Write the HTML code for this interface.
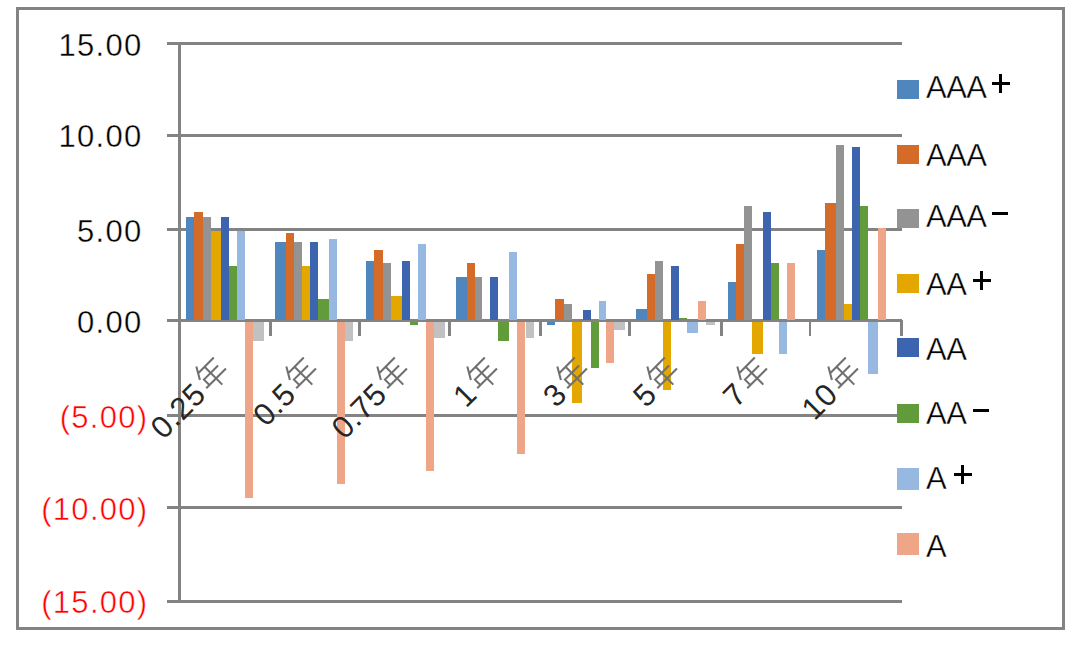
<!DOCTYPE html>
<html><head><meta charset="utf-8"><style>
html,body{margin:0;padding:0;background:#fff;}
body{width:1080px;height:649px;overflow:hidden;position:relative;font-family:"Liberation Sans",sans-serif;}
div{position:absolute;}
.g{background:#838383;}
.yl{font-size:31px;line-height:30px;white-space:nowrap;text-align:right;-webkit-text-stroke:0.35px #fff;}
.lg{font-size:31px;line-height:30px;white-space:nowrap;color:#000;-webkit-text-stroke:0.35px #fff;}
.cl{font-size:31px;line-height:30px;white-space:nowrap;color:#262626;}
</style></head><body>

<div style="left:16px;top:7px;width:1043px;height:617px;border:3px solid #838383;"></div>
<div class="g" style="left:167.2px;top:42.35px;width:735.1px;height:2.7px"></div>
<div class="g" style="left:167.2px;top:134.05px;width:735.1px;height:2.7px"></div>
<div class="g" style="left:167.2px;top:228.15px;width:735.1px;height:2.7px"></div>
<div class="g" style="left:167.2px;top:319.45px;width:735.1px;height:2.7px"></div>
<div class="g" style="left:167.2px;top:414.35px;width:735.1px;height:2.7px"></div>
<div class="g" style="left:167.2px;top:506.05px;width:735.1px;height:2.7px"></div>
<div class="g" style="left:167.2px;top:600.05px;width:735.1px;height:2.7px"></div>
<div class="g" style="left:178.1px;top:42.35px;width:2.8px;height:560.4px"></div>
<div style="left:186.25px;top:217.1px;width:8.05px;height:103.7px;background:#4E86BD"></div>
<div style="left:194.3px;top:212.1px;width:8.4px;height:108.7px;background:#D46B29"></div>
<div style="left:202.7px;top:217.1px;width:8.1px;height:103.7px;background:#939393"></div>
<div style="left:210.8px;top:230.8px;width:10px;height:90px;background:#E3A700"></div>
<div style="left:220.8px;top:217.1px;width:8.1px;height:103.7px;background:#3D64AF"></div>
<div style="left:228.9px;top:266px;width:8.2px;height:54.8px;background:#619B3C"></div>
<div style="left:237.1px;top:230.8px;width:7.9px;height:90px;background:#97B8E0"></div>
<div style="left:245px;top:320.8px;width:8.1px;height:177.05px;background:#EFA688"></div>
<div style="left:253.1px;top:320.8px;width:10.8px;height:20px;background:#C1C1C1"></div>
<div style="left:275px;top:241.6px;width:11px;height:79.2px;background:#4E86BD"></div>
<div style="left:286px;top:233.4px;width:8px;height:87.4px;background:#D46B29"></div>
<div style="left:294px;top:241.6px;width:8px;height:79.2px;background:#939393"></div>
<div style="left:302px;top:266px;width:8.1px;height:54.8px;background:#E3A700"></div>
<div style="left:310.1px;top:241.6px;width:8px;height:79.2px;background:#3D64AF"></div>
<div style="left:318.1px;top:298.7px;width:11.1px;height:22.1px;background:#619B3C"></div>
<div style="left:329.2px;top:238.9px;width:8px;height:81.9px;background:#97B8E0"></div>
<div style="left:337.2px;top:320.8px;width:7.6px;height:163.1px;background:#EFA688"></div>
<div style="left:344.8px;top:320.8px;width:8px;height:20px;background:#C1C1C1"></div>
<div style="left:366.2px;top:260.8px;width:8.1px;height:60px;background:#4E86BD"></div>
<div style="left:374.3px;top:249.9px;width:8.3px;height:70.9px;background:#D46B29"></div>
<div style="left:382.6px;top:263.3px;width:8.2px;height:57.5px;background:#939393"></div>
<div style="left:390.8px;top:295.9px;width:10.8px;height:24.9px;background:#E3A700"></div>
<div style="left:401.6px;top:260.8px;width:8.3px;height:60px;background:#3D64AF"></div>
<div style="left:409.9px;top:320.8px;width:8px;height:4px;background:#619B3C"></div>
<div style="left:417.9px;top:244.2px;width:8px;height:76.6px;background:#97B8E0"></div>
<div style="left:425.9px;top:320.8px;width:8.2px;height:149.9px;background:#EFA688"></div>
<div style="left:434.1px;top:320.8px;width:10.8px;height:17.5px;background:#C1C1C1"></div>
<div style="left:456px;top:277px;width:10.9px;height:43.8px;background:#4E86BD"></div>
<div style="left:466.9px;top:263.1px;width:8.1px;height:57.7px;background:#D46B29"></div>
<div style="left:475px;top:277px;width:7.1px;height:43.8px;background:#939393"></div>
<div style="left:490.2px;top:277px;width:8.1px;height:43.8px;background:#3D64AF"></div>
<div style="left:498.3px;top:320.8px;width:10.6px;height:19.9px;background:#619B3C"></div>
<div style="left:508.9px;top:252.3px;width:8.3px;height:68.5px;background:#97B8E0"></div>
<div style="left:517.2px;top:320.8px;width:8.3px;height:133.2px;background:#EFA688"></div>
<div style="left:525.5px;top:320.8px;width:8px;height:17.2px;background:#C1C1C1"></div>
<div style="left:547.2px;top:320.8px;width:8.2px;height:4px;background:#4E86BD"></div>
<div style="left:555.4px;top:298.9px;width:8.2px;height:21.9px;background:#D46B29"></div>
<div style="left:563.6px;top:304.2px;width:8.3px;height:16.6px;background:#939393"></div>
<div style="left:571.9px;top:320.8px;width:10.6px;height:82.7px;background:#E3A700"></div>
<div style="left:582.5px;top:309.6px;width:8.1px;height:11.2px;background:#3D64AF"></div>
<div style="left:590.6px;top:320.8px;width:8.4px;height:47.3px;background:#619B3C"></div>
<div style="left:599px;top:301.4px;width:7.1px;height:19.4px;background:#97B8E0"></div>
<div style="left:606.1px;top:320.8px;width:8.1px;height:42px;background:#EFA688"></div>
<div style="left:614.2px;top:320.8px;width:10.6px;height:9.1px;background:#C1C1C1"></div>
<div style="left:635.8px;top:309.4px;width:11.1px;height:11.4px;background:#4E86BD"></div>
<div style="left:646.9px;top:274.2px;width:8.1px;height:46.6px;background:#D46B29"></div>
<div style="left:655px;top:260.9px;width:8px;height:59.9px;background:#939393"></div>
<div style="left:663px;top:320.8px;width:8.2px;height:69px;background:#E3A700"></div>
<div style="left:671.2px;top:266.2px;width:8px;height:54.6px;background:#3D64AF"></div>
<div style="left:679.2px;top:317.8px;width:8.1px;height:3px;background:#619B3C"></div>
<div style="left:687.3px;top:320.8px;width:10.9px;height:11.9px;background:#97B8E0"></div>
<div style="left:698.2px;top:301.3px;width:8.1px;height:19.5px;background:#EFA688"></div>
<div style="left:706.3px;top:320.8px;width:8.3px;height:3.8px;background:#C1C1C1"></div>
<div style="left:728.3px;top:282.3px;width:8px;height:38.5px;background:#4E86BD"></div>
<div style="left:736.3px;top:244.2px;width:7.4px;height:76.6px;background:#D46B29"></div>
<div style="left:743.7px;top:206.2px;width:8.1px;height:114.6px;background:#939393"></div>
<div style="left:751.8px;top:320.8px;width:10.8px;height:33.6px;background:#E3A700"></div>
<div style="left:762.6px;top:211.9px;width:8.1px;height:108.9px;background:#3D64AF"></div>
<div style="left:770.7px;top:263.3px;width:8.1px;height:57.5px;background:#619B3C"></div>
<div style="left:778.8px;top:320.8px;width:8.1px;height:33.6px;background:#97B8E0"></div>
<div style="left:786.9px;top:263.3px;width:8px;height:57.5px;background:#EFA688"></div>
<div style="left:816.9px;top:249.6px;width:8.2px;height:71.2px;background:#4E86BD"></div>
<div style="left:825.1px;top:203.4px;width:10.8px;height:117.4px;background:#D46B29"></div>
<div style="left:835.9px;top:144.9px;width:8.1px;height:175.9px;background:#939393"></div>
<div style="left:844px;top:304px;width:8.1px;height:16.8px;background:#E3A700"></div>
<div style="left:852.1px;top:147.3px;width:7.9px;height:173.5px;background:#3D64AF"></div>
<div style="left:860px;top:206.1px;width:8.2px;height:114.7px;background:#619B3C"></div>
<div style="left:868.2px;top:320.8px;width:9.8px;height:52.8px;background:#97B8E0"></div>
<div style="left:878px;top:228.1px;width:8.1px;height:92.7px;background:#EFA688"></div>
<div class="g" style="left:178.1px;top:319.5px;width:724.2px;height:2.7px"></div>
<div class="g" style="left:269.45px;top:320px;width:2.7px;height:15.6px"></div>
<div class="g" style="left:358.25px;top:320px;width:2.7px;height:15.6px"></div>
<div class="g" style="left:447.85px;top:320px;width:2.7px;height:15.6px"></div>
<div class="g" style="left:539.25px;top:320px;width:2.7px;height:15.6px"></div>
<div class="g" style="left:628.25px;top:320px;width:2.7px;height:15.6px"></div>
<div class="g" style="left:720.05px;top:320px;width:2.7px;height:15.6px"></div>
<div class="g" style="left:808.65px;top:320px;width:2.7px;height:15.6px"></div>
<div class="g" style="left:899.95px;top:320px;width:2.7px;height:15.6px"></div>
<div class="yl" style="right:937.5px;top:31px;color:#000;letter-spacing:1.3px">15.00</div>
<div class="yl" style="right:937.5px;top:122.2px;color:#000;letter-spacing:1.3px">10.00</div>
<div class="yl" style="right:937.5px;top:216.7px;color:#000;letter-spacing:1.3px">5.00</div>
<div class="yl" style="right:937.5px;top:308px;color:#000;letter-spacing:1.3px">0.00</div>
<div class="yl" style="right:931.5px;top:402.7px;color:#FF0000;-webkit-text-stroke:0.5px #fff;letter-spacing:1.3px">(5.00)</div>
<div class="yl" style="right:931.5px;top:495px;color:#FF0000;-webkit-text-stroke:0.5px #fff;letter-spacing:1.3px">(10.00)</div>
<div class="yl" style="right:931.5px;top:588.3px;color:#FF0000;-webkit-text-stroke:0.5px #fff;letter-spacing:1.3px">(15.00)</div>
<div style="left:210.11px;top:350.4px;width:0;height:0;transform:rotate(-45deg);transform-origin:0 0"><svg width="31" height="31" viewBox="0 0 18 18" style="position:absolute;left:-33.1px;top:2.1px;overflow:visible" fill="none" stroke="#707070" stroke-width="1.2" stroke-linecap="square"><path d="M6.5 0.5L3 6.5M5 3.5H17M4.5 8.5H15.5M4.5 8.5V13M2.5 13H17.5M10 3.5V17.5"/></svg><div class="cl" style="right:34.5px;top:6.3px;letter-spacing:0.5px">0.25</div></div>
<div style="left:300.33px;top:350.4px;width:0;height:0;transform:rotate(-45deg);transform-origin:0 0"><svg width="31" height="31" viewBox="0 0 18 18" style="position:absolute;left:-33.1px;top:2.1px;overflow:visible" fill="none" stroke="#707070" stroke-width="1.2" stroke-linecap="square"><path d="M6.5 0.5L3 6.5M5 3.5H17M4.5 8.5H15.5M4.5 8.5V13M2.5 13H17.5M10 3.5V17.5"/></svg><div class="cl" style="right:34.5px;top:6.3px;letter-spacing:0.5px">0.5</div></div>
<div style="left:390.55px;top:350.4px;width:0;height:0;transform:rotate(-45deg);transform-origin:0 0"><svg width="31" height="31" viewBox="0 0 18 18" style="position:absolute;left:-33.1px;top:2.1px;overflow:visible" fill="none" stroke="#707070" stroke-width="1.2" stroke-linecap="square"><path d="M6.5 0.5L3 6.5M5 3.5H17M4.5 8.5H15.5M4.5 8.5V13M2.5 13H17.5M10 3.5V17.5"/></svg><div class="cl" style="right:34.5px;top:6.3px;letter-spacing:0.5px">0.75</div></div>
<div style="left:480.77px;top:350.4px;width:0;height:0;transform:rotate(-45deg);transform-origin:0 0"><svg width="31" height="31" viewBox="0 0 18 18" style="position:absolute;left:-33.1px;top:2.1px;overflow:visible" fill="none" stroke="#707070" stroke-width="1.2" stroke-linecap="square"><path d="M6.5 0.5L3 6.5M5 3.5H17M4.5 8.5H15.5M4.5 8.5V13M2.5 13H17.5M10 3.5V17.5"/></svg><div class="cl" style="right:34.5px;top:6.3px;letter-spacing:0.5px">1</div></div>
<div style="left:570.99px;top:350.4px;width:0;height:0;transform:rotate(-45deg);transform-origin:0 0"><svg width="31" height="31" viewBox="0 0 18 18" style="position:absolute;left:-33.1px;top:2.1px;overflow:visible" fill="none" stroke="#707070" stroke-width="1.2" stroke-linecap="square"><path d="M6.5 0.5L3 6.5M5 3.5H17M4.5 8.5H15.5M4.5 8.5V13M2.5 13H17.5M10 3.5V17.5"/></svg><div class="cl" style="right:34.5px;top:6.3px;letter-spacing:0.5px">3</div></div>
<div style="left:661.21px;top:350.4px;width:0;height:0;transform:rotate(-45deg);transform-origin:0 0"><svg width="31" height="31" viewBox="0 0 18 18" style="position:absolute;left:-33.1px;top:2.1px;overflow:visible" fill="none" stroke="#707070" stroke-width="1.2" stroke-linecap="square"><path d="M6.5 0.5L3 6.5M5 3.5H17M4.5 8.5H15.5M4.5 8.5V13M2.5 13H17.5M10 3.5V17.5"/></svg><div class="cl" style="right:34.5px;top:6.3px;letter-spacing:0.5px">5</div></div>
<div style="left:751.43px;top:350.4px;width:0;height:0;transform:rotate(-45deg);transform-origin:0 0"><svg width="31" height="31" viewBox="0 0 18 18" style="position:absolute;left:-33.1px;top:2.1px;overflow:visible" fill="none" stroke="#707070" stroke-width="1.2" stroke-linecap="square"><path d="M6.5 0.5L3 6.5M5 3.5H17M4.5 8.5H15.5M4.5 8.5V13M2.5 13H17.5M10 3.5V17.5"/></svg><div class="cl" style="right:34.5px;top:6.3px;letter-spacing:0.5px">7</div></div>
<div style="left:841.65px;top:350.4px;width:0;height:0;transform:rotate(-45deg);transform-origin:0 0"><svg width="31" height="31" viewBox="0 0 18 18" style="position:absolute;left:-33.1px;top:2.1px;overflow:visible" fill="none" stroke="#707070" stroke-width="1.2" stroke-linecap="square"><path d="M6.5 0.5L3 6.5M5 3.5H17M4.5 8.5H15.5M4.5 8.5V13M2.5 13H17.5M10 3.5V17.5"/></svg><div class="cl" style="right:34.5px;top:6.3px;letter-spacing:0.5px">10</div></div>
<div style="left:897.1px;top:79.55px;width:21.9px;height:19.1px;background:#4E86BD"></div>
<div class="lg" style="left:926px;top:73.1px;letter-spacing:-0.5px">AAA</div>
<div style="left:991.6px;top:82.45px;width:18.3px;height:2.7px;background:#000"></div>
<div style="left:999.4px;top:74.2px;width:2.7px;height:19.2px;background:#000"></div>
<div style="left:897.1px;top:144.9px;width:21.9px;height:19px;background:#D46B29"></div>
<div class="lg" style="left:926px;top:140.9px;letter-spacing:-0.5px">AAA</div>
<div style="left:897.1px;top:209px;width:21.9px;height:18.8px;background:#939393"></div>
<div class="lg" style="left:926px;top:202.3px;letter-spacing:-0.5px">AAA</div>
<div style="left:992px;top:211.5px;width:15.8px;height:3px;background:#000"></div>
<div style="left:897.1px;top:274px;width:21.9px;height:18.8px;background:#E3A700"></div>
<div class="lg" style="left:926px;top:270.1px;letter-spacing:-0.5px">AA</div>
<div style="left:972.6px;top:279.45px;width:18.3px;height:2.7px;background:#000"></div>
<div style="left:980.4px;top:271.2px;width:2.7px;height:19.2px;background:#000"></div>
<div style="left:897.1px;top:338.4px;width:21.9px;height:19px;background:#3D64AF"></div>
<div class="lg" style="left:926px;top:334.6px;letter-spacing:-0.5px">AA</div>
<div style="left:897.1px;top:403.7px;width:21.9px;height:19px;background:#619B3C"></div>
<div class="lg" style="left:926px;top:399.4px;letter-spacing:-0.5px">AA</div>
<div style="left:973px;top:408.6px;width:15.8px;height:3px;background:#000"></div>
<div style="left:897.1px;top:468px;width:21.9px;height:21.7px;background:#97B8E0"></div>
<div class="lg" style="left:926px;top:463.8px;letter-spacing:-0.5px">A</div>
<div style="left:953.6px;top:473.15px;width:18.3px;height:2.7px;background:#000"></div>
<div style="left:961.4px;top:464.9px;width:2.7px;height:19.2px;background:#000"></div>
<div style="left:897.1px;top:532.9px;width:21.9px;height:22px;background:#EFA688"></div>
<div class="lg" style="left:926px;top:531.6px;letter-spacing:-0.5px">A</div>
</body></html>
